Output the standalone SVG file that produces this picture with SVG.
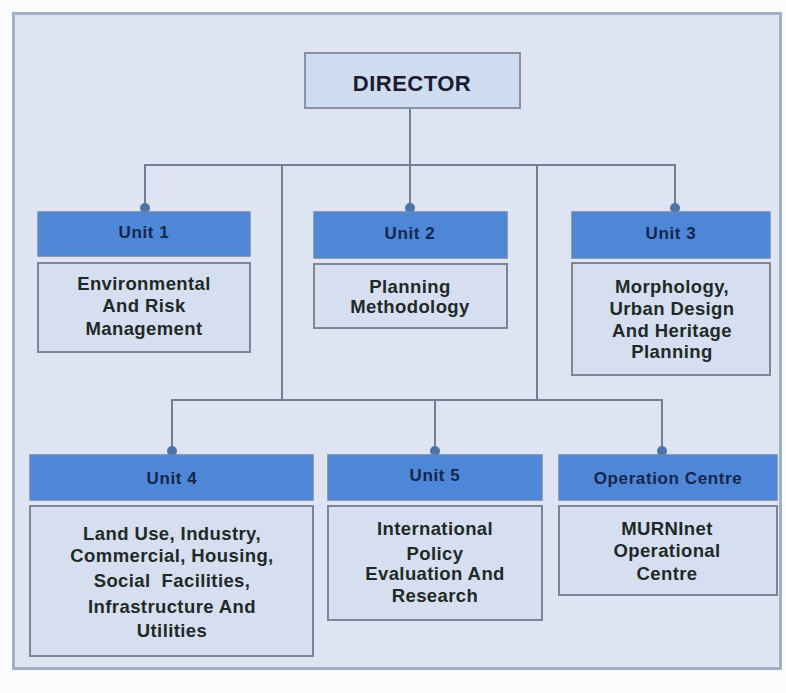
<svg xmlns="http://www.w3.org/2000/svg" width="786" height="693" viewBox="0 0 786 693">
<style>
.frame{fill:#dee4f1;stroke:#9db1c7;stroke-width:3}
.dir{fill:#cfdbef;stroke:#8593a5;stroke-width:2}
.hd{fill:#4e87d7;stroke:#6a86ad;stroke-width:1.5}
.bd{fill:#d6dfef;stroke:#7b8799;stroke-width:2}
.ln{fill:none;stroke:#6f8096;stroke-width:2}
.dot{fill:#4d73a8}
text{font-family:"Liberation Sans",Arial,sans-serif;font-weight:bold;text-anchor:middle}
.ht{font-size:17px;letter-spacing:0.6px;fill:#15264d}
.bt{font-size:18.5px;letter-spacing:0.4px;fill:#1f2a28}
.dt{font-size:22px;letter-spacing:0.5px;fill:#1a1a30}
.pre{white-space:pre}
</style>
<rect width="786" height="693" fill="#fbfdfd"/>
<rect class="frame" x="13.5" y="13.5" width="767" height="655"/>
<g id="connectors">
<path class="ln" d="M410 108 V165 M145 205 V165 H675 V205 M410 165 V205 M282 165 V400 M537 165 V400 M172 448 V400 H662 V448 M435 400 V448"/>
<circle class="dot" cx="145" cy="208" r="5"/>
<circle class="dot" cx="410" cy="208" r="5"/>
<circle class="dot" cx="675" cy="208" r="5"/>
<circle class="dot" cx="172" cy="451" r="5"/>
<circle class="dot" cx="435" cy="451" r="5"/>
<circle class="dot" cx="662" cy="451" r="5"/>
</g>
<g id="director">
<rect class="dir" x="305" y="53" width="215" height="55"/>
<text class="dt" x="412" y="91">DIRECTOR</text>
</g>
<g id="unit1">
<rect class="hd" x="38" y="212" width="212" height="44"/>
<text class="ht" x="144" y="238">Unit 1</text>
<rect class="bd" x="38" y="263" width="212" height="89"/>
<text class="bt" x="144" y="290">Environmental</text>
<text class="bt" x="144" y="312">And Risk</text>
<text class="bt" x="144" y="335">Management</text>
</g>
<g id="unit2">
<rect class="hd" x="314" y="212" width="193" height="46"/>
<text class="ht" x="410" y="239">Unit 2</text>
<rect class="bd" x="314" y="264" width="193" height="64"/>
<text class="bt" x="410" y="293">Planning</text>
<text class="bt" x="410" y="313">Methodology</text>
</g>
<g id="unit3">
<rect class="hd" x="572" y="212" width="198" height="46"/>
<text class="ht" x="671" y="239">Unit 3</text>
<rect class="bd" x="572" y="263" width="198" height="112"/>
<text class="bt" x="672" y="293">Morphology,</text>
<text class="bt" x="672" y="315">Urban Design</text>
<text class="bt" x="672" y="337">And Heritage</text>
<text class="bt" x="672" y="358">Planning</text>
</g>
<g id="unit4">
<rect class="hd" x="30" y="455" width="283" height="45"/>
<text class="ht" x="172" y="484">Unit 4</text>
<rect class="bd" x="30" y="506" width="283" height="150"/>
<text class="bt" x="172" y="540">Land Use, Industry,</text>
<text class="bt" x="172" y="562">Commercial, Housing,</text>
<text class="bt pre" x="172" y="587">Social  Facilities,</text>
<text class="bt" x="172" y="613">Infrastructure And</text>
<text class="bt" x="172" y="637">Utilities</text>
</g>
<g id="unit5">
<rect class="hd" x="328" y="455" width="214" height="45"/>
<text class="ht" x="435" y="481">Unit 5</text>
<rect class="bd" x="328" y="506" width="214" height="114"/>
<text class="bt" x="435" y="535">International</text>
<text class="bt" x="435" y="560">Policy</text>
<text class="bt" x="435" y="580">Evaluation And</text>
<text class="bt" x="435" y="602">Research</text>
</g>
<g id="operation-centre">
<rect class="hd" x="559" y="455" width="218" height="45"/>
<text class="ht" x="668" y="484">Operation Centre</text>
<rect class="bd" x="559" y="506" width="218" height="89"/>
<text class="bt" x="667" y="535">MURNInet</text>
<text class="bt" x="667" y="557">Operational</text>
<text class="bt" x="667" y="580">Centre</text>
</g>
</svg>
